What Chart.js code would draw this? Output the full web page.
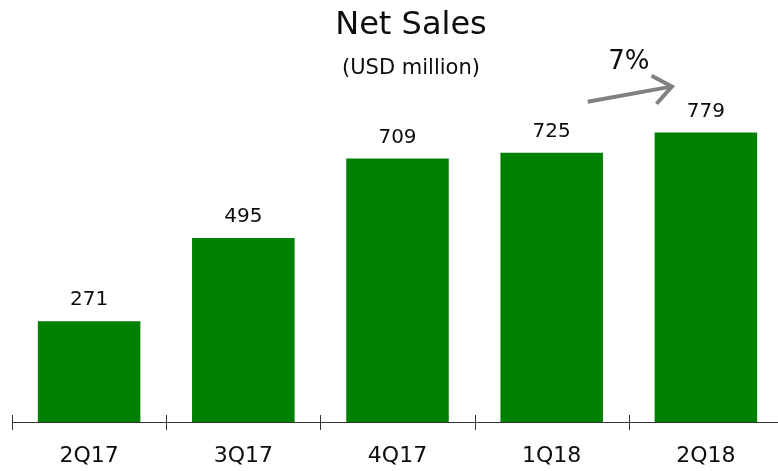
<!DOCTYPE html>
<html><head><meta charset="utf-8">
<script src="https://cdn.jsdelivr.net/npm/chart.js@4/dist/chart.umd.min.js"></script>
<style>
html,body{margin:0;padding:0;overflow:hidden;background:#fff;width:778px;height:471px}
#wrap{position:relative;width:800px;height:471px}
</style></head>
<body><div id="wrap"><canvas id="c" width="800" height="471"></canvas></div>
<script>
const categories = ['2Q17', '3Q17', '4Q17', '1Q18', '2Q18'];
const netSales = [271, 495, 709, 725, 779];
const titleText = 'Net Sales';
const subtitleText = '(USD million)';
const growthLabel = '7%';

const FONT = '"DejaVu Sans", Verdana, sans-serif';
const TEXT = '#0d0d0d';

const overlay = {
  id: 'overlay',
  afterDraw(chart) {
    const ctx = chart.ctx;
    const meta = chart.getDatasetMeta(0);
    const xs = chart.scales.x;
    const axisY = chart.chartArea.bottom;
    ctx.save();
    // tick marks crossing the axis at category boundaries
    ctx.strokeStyle = '#333';
    ctx.lineWidth = 1;
    const n = categories.length;
    const step = xs.getPixelForValue(1) - xs.getPixelForValue(0);
    for (let i = 0; i < n; i++) {
      const bx = Math.round(xs.getPixelForValue(i) - step / 2) + 0.5;
      ctx.beginPath();
      ctx.moveTo(bx, axisY - 7);
      ctx.lineTo(bx, axisY + 8);
      ctx.stroke();
    }
    // value labels
    ctx.fillStyle = TEXT;
    ctx.font = '20px ' + FONT;
    ctx.textAlign = 'center';
    ctx.textBaseline = 'alphabetic';
    meta.data.forEach((bar, i) => {
      ctx.fillText(String(netSales[i]), bar.x, bar.y - 16);
    });
    // title & subtitle
    ctx.font = '32px ' + FONT;
    ctx.fillText(titleText, 411, 34);
    ctx.font = '21px ' + FONT;
    ctx.fillText(subtitleText, 411, 74);
    // growth arrow
    const b4 = meta.data[3], b5 = meta.data[4];
    const sx = b4.x + 36, sy = b4.y - 51;
    const ex = b5.x - 34, ey = b5.y - 46;
    ctx.strokeStyle = '#808080';
    ctx.lineWidth = 4;
    ctx.lineCap = 'butt';
    ctx.lineJoin = 'miter';
    ctx.beginPath();
    ctx.moveTo(sx, sy);
    ctx.lineTo(ex - 2, ey + 0.3);
    ctx.stroke();
    const ang = Math.atan2(ey - sy, ex - sx);
    const hl = 23, ha = Math.PI / 180 * 38;
    ctx.beginPath();
    ctx.moveTo(ex - hl * Math.cos(ang - ha), ey - hl * Math.sin(ang - ha));
    ctx.lineTo(ex, ey);
    ctx.lineTo(ex - hl * Math.cos(ang + ha), ey - hl * Math.sin(ang + ha));
    ctx.stroke();
    ctx.fillStyle = TEXT;
    ctx.font = '26px ' + FONT;
    ctx.fillText(growthLabel, (b4.x + b5.x) / 2, b5.y - 64);
    ctx.restore();
  }
};

new Chart(document.getElementById('c'), {
  type: 'bar',
  data: {
    labels: categories,
    datasets: [{
      data: netSales,
      backgroundColor: '#008000',
      borderWidth: 0,
      categoryPercentage: 1,
      barPercentage: 0.665
    }]
  },
  options: {
    responsive: false,
    devicePixelRatio: 1,
    animation: false,
    layout: { padding: { top: 50.5, left: 12, right: 17, bottom: 0 } },
    plugins: { legend: { display: false }, tooltip: { enabled: false }, title: { display: false } },
    scales: {
      y: { display: false, min: 0, max: 1000 },
      x: {
        grid: { display: false },
        border: { display: true, color: '#333', width: 1 },
        ticks: { color: TEXT, font: { family: FONT, size: 22 }, padding: 13 },
        afterFit(scale) { scale.height = 49; }
      }
    }
  },
  plugins: [overlay]
});
</script>
</body></html>
